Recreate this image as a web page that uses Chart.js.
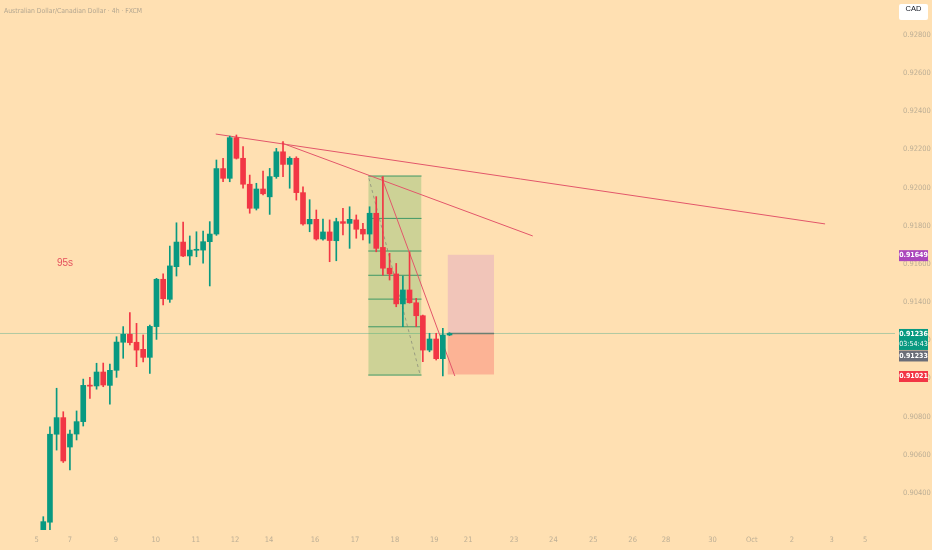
<!DOCTYPE html>
<html>
<head>
<meta charset="utf-8">
<script src="https://cdn.jsdelivr.net/npm/chart.js@4.4.0/dist/chart.umd.min.js"></script>
<style>
  html, body { margin: 0; padding: 0; background: #ffe0b2; }
  #wrap { position: relative; width: 932px; height: 550px; overflow: hidden; }
  #c { position: absolute; left: 0; top: 0; }
  .title { position: absolute; left: 4px; top: 7px; font: 6.8px 'Liberation Sans Narrow', 'DejaVu Sans Condensed', sans-serif; color: #b3a690; }
  .note { position: absolute; left: 57px; top: 257px; font: 10px 'Liberation Sans', sans-serif; color: #e5505c; }
  .cur { position: absolute; left: 899px; top: 4px; width: 29px; height: 16px; line-height: 16px; background: #fff; border-radius: 2px;
         text-align: center; font: 7.5px 'Liberation Sans Narrow', sans-serif; color: #131722; }
</style>
</head>
<body>
<div id="wrap">
  <canvas id="c" width="932" height="550"></canvas>
  <div class="title">Australian Dollar/Canadian Dollar · 4h · FXCM</div>
  <div class="note">95s</div>
  <div class="cur">CAD</div>
</div>
<script>
// 4h candles
const opens  = [0.90208,0.90247,0.90708,0.90795,0.90641,0.90709,0.90774,0.90963,0.90961,0.91034,
                0.90964,0.91043,0.91190,0.91232,0.91190,0.91153,0.91111,0.91272,0.91520,0.91415,
                0.91586,0.91715,0.91642,0.91672,0.91673,0.91717,0.91757,0.92100,0.92049,0.92262,
                0.92154,0.92018,0.91892,0.91993,0.91952,0.92058,0.92188,0.92122,0.92154,0.91974,
                0.91810,0.91834,0.91731,0.91768,0.91722,0.91822,0.91813,0.91831,0.91782,0.91757,
                0.91866,0.91687,0.91578,0.91548,0.91391,0.91464,0.91397,0.91329,0.91149,0.91207,
                0.91104,0.91228];
const highs  = [0.90276,0.90747,0.90949,0.90826,0.90730,0.90830,0.90997,0.91006,0.91080,0.91081,
                0.91076,0.91219,0.91272,0.91345,0.91289,0.91228,0.91280,0.91525,0.91548,0.91694,
                0.91816,0.91820,0.91747,0.91769,0.91773,0.91822,0.92145,0.92154,0.92270,0.92276,
                0.92215,0.92066,0.92023,0.92087,0.92101,0.92206,0.92241,0.92162,0.92162,0.92005,
                0.91937,0.91883,0.91836,0.91831,0.91840,0.91892,0.91900,0.91857,0.91813,0.91900,
                0.91953,0.92058,0.91656,0.91603,0.91537,0.91664,0.91420,0.91332,0.91237,0.91237,
                0.91263,0.91240];
const lows   = [0.90206,0.90206,0.90625,0.90560,0.90521,0.90678,0.90751,0.90896,0.90944,0.90957,
                0.90865,0.91006,0.91106,0.91176,0.91062,0.91087,0.91027,0.91205,0.91385,0.91399,
                0.91537,0.91638,0.91595,0.91638,0.91604,0.91485,0.91750,0.92031,0.92031,0.92150,
                0.91997,0.91866,0.91883,0.91962,0.91860,0.92049,0.92058,0.91997,0.91935,0.91804,
                0.91769,0.91725,0.91725,0.91612,0.91617,0.91752,0.91682,0.91735,0.91726,0.91709,
                0.91664,0.91542,0.91516,0.91376,0.91272,0.91395,0.91272,0.91088,0.91140,0.91097,
                0.91013,0.91225];
const closes = [0.90250,0.90708,0.90795,0.90568,0.90709,0.90774,0.90964,0.90960,0.91034,0.90966,
                0.91043,0.91191,0.91232,0.91188,0.91149,0.91111,0.91273,0.91520,0.91418,0.91590,
                0.91715,0.91642,0.91673,0.91674,0.91717,0.91757,0.92100,0.92049,0.92262,0.92154,
                0.92018,0.91892,0.91993,0.91968,0.92058,0.92188,0.92122,0.92154,0.91974,0.91810,
                0.91834,0.91731,0.91768,0.91723,0.91822,0.91813,0.91834,0.91782,0.91757,0.91866,
                0.91682,0.91578,0.91548,0.91391,0.91464,0.91397,0.91329,0.91149,0.91207,0.91104,
                0.91228,0.91236];

// time axis (candle index positions) and price axis ticks
const xTickPos    = [-1, 4, 10.9, 16.9, 22.9, 28.8, 33.9, 40.8, 46.8, 52.8, 58.7, 63.8,
                     70.7, 76.6, 82.6, 88.5, 93.5, 100.5, 106.4, 112.4, 118.4, 123.4];
const xTickLabels = ['5','7','9','10','11','12','14','16','17','18','19','21',
                     '23','24','25','26','28','30','Oct','2','3','5'];
const yTicks = [0.904,0.906,0.908,0.910,0.912,0.914,0.916,0.918,0.920,0.922,0.924,0.926,0.928];

// drawings: [index, price]
const trendA = [[25.9, 0.92281], [117.4, 0.91810]];
const trendB = [[35.8, 0.92234], [73.5, 0.91747]];
const trendC = [[50.8, 0.92056], [61.8, 0.91013]];
const ghost  = [[48.9, 0.92049], [56.6, 0.91018]];
const boxX   = [48.8, 56.8];
const boxLevels = [0.92061, 0.91839, 0.91668, 0.91541, 0.91416, 0.91271, 0.91018];
const posX   = [60.7, 67.7];
const posLevels = [0.91649, 0.91236, 0.91021];   // stop, entry, target
const lastPrice = 0.91236;
const prevPrice = 0.91233;
const countdown = '03:54:43';

const UP = '#089981', DOWN = '#f23645';
const TXT = '#bcae95';
const FONT = "'Liberation Sans Narrow', 'DejaVu Sans Condensed', sans-serif";
const X_MIN = -6.5, X_MAX = 127.9;

const candleColors = opens.map((o, i) => closes[i] >= o ? UP : DOWN);
const bodies = opens.map((o, i) => ({x: i, y: [o, closes[i]]}));
const wicks  = opens.map((o, i) => ({x: i, y: [lows[i], highs[i]]}));
const pts = arr => arr.map(p => ({x: p[0], y: p[1]}));

function lineSet(data, color, width, extra) {
  return Object.assign({type: 'line', data: data, borderColor: color, borderWidth: width,
    pointRadius: 0, fill: false, tension: 0, order: 2}, extra || {});
}

const datasets = [
  {type: 'bar', data: bodies, backgroundColor: candleColors, barThickness: 5, grouped: false,
   minBarLength: 1, borderWidth: 0, order: 0},
  {type: 'bar', data: wicks, backgroundColor: candleColors, barThickness: 1, grouped: false,
   borderWidth: 0, order: 1},
  lineSet(pts(trendA), '#e2566a', 1),
  lineSet(pts(trendB), '#e2566a', 1),
  lineSet(pts(trendC), '#e2566a', 1),
  lineSet(pts(ghost), 'rgba(110,110,110,0.55)', 1, {borderDash: [3, 3]}),
  // green box
  lineSet([{x: boxX[0], y: boxLevels[0]}, {x: boxX[1], y: boxLevels[0]}], 'rgba(0,0,0,0)', 0,
    {fill: {value: boxLevels[boxLevels.length - 1]}, backgroundColor: 'rgba(76,175,80,0.28)', order: 5}),
  ...boxLevels.map(v => lineSet([{x: boxX[0], y: v}, {x: boxX[1], y: v}], '#3f9866', 1, {order: 3})),
  // position tool
  lineSet([{x: posX[0], y: posLevels[0]}, {x: posX[1], y: posLevels[0]}], 'rgba(0,0,0,0)', 0,
    {fill: {value: posLevels[1]}, backgroundColor: '#f1c5b9', order: 5}),
  lineSet([{x: posX[0], y: posLevels[1]}, {x: posX[1], y: posLevels[1]}], '#6a7f72', 1.5,
    {fill: {value: posLevels[2]}, backgroundColor: '#fcb395', order: 4}),
  // last price line
  lineSet([{x: X_MIN, y: lastPrice}, {x: X_MAX, y: lastPrice}], 'rgba(8,153,129,0.32)', 1, {order: 6})
];

const priceTags = {
  id: 'priceTags',
  afterDraw(chart) {
    const {ctx} = chart;
    const y = chart.scales.y;
    const left = 899, w = 29;
    function tag(top, h, bg, lines) {
      ctx.fillStyle = bg;
      ctx.fillRect(left, top, w, h);
      ctx.fillStyle = '#ffffff';
      ctx.textAlign = 'center';
      ctx.textBaseline = 'middle';
      lines.forEach((t, k) => {
        ctx.font = (k === 0 ? 'bold 7px ' : '7px ') + FONT;
        ctx.fillText(t, left + w / 2, top + 5.5 + k * 9.5);
      });
    }
    ctx.save();
    const ps = y.getPixelForValue(posLevels[0]) + 1;
    tag(ps - 5.5, 11, '#ab47bc', [posLevels[0].toFixed(5)]);
    const pl = y.getPixelForValue(lastPrice) + 1;
    tag(pl - 5.5, 21, UP, [lastPrice.toFixed(5), countdown]);
    tag(pl + 16, 11, '#6a6d78', [prevPrice.toFixed(5)]);
    const pt = y.getPixelForValue(posLevels[2]) + 2;
    tag(pt - 5.5, 11, DOWN, [posLevels[2].toFixed(5)]);
    ctx.restore();
  }
};

new Chart(document.getElementById('c'), {
  type: 'bar',
  data: {datasets: datasets},
  plugins: [priceTags],
  options: {
    responsive: false,
    devicePixelRatio: 1,
    animation: false,
    layout: {padding: 0},
    plugins: {legend: {display: false}, tooltip: {enabled: false}},
    scales: {
      x: {
        type: 'linear', min: X_MIN, max: X_MAX, offset: false,
        grid: {display: false, drawTicks: false}, border: {display: false},
        afterBuildTicks: axis => { axis.ticks = xTickPos.map(v => ({value: v})); },
        afterFit: axis => { axis.height = 20; axis.paddingLeft = 0; axis.paddingRight = 0; },
        ticks: {autoSkip: false, maxRotation: 0, padding: 6, color: TXT,
                font: {family: FONT, size: 7.5},
                callback: (v, i) => xTickLabels[i]}
      },
      y: {
        type: 'linear', position: 'right', min: 0.902062, max: 0.929834,
        grid: {display: false, drawTicks: false}, border: {display: false},
        afterBuildTicks: axis => { axis.ticks = yTicks.map(v => ({value: v})); },
        afterFit: axis => { axis.width = 37; axis.paddingTop = 0; axis.paddingBottom = 0; },
        ticks: {padding: 8, color: TXT, font: {family: FONT, size: 7.5},
                callback: v => v.toFixed(5)}
      }
    }
  }
});
</script>
</body>
</html>
